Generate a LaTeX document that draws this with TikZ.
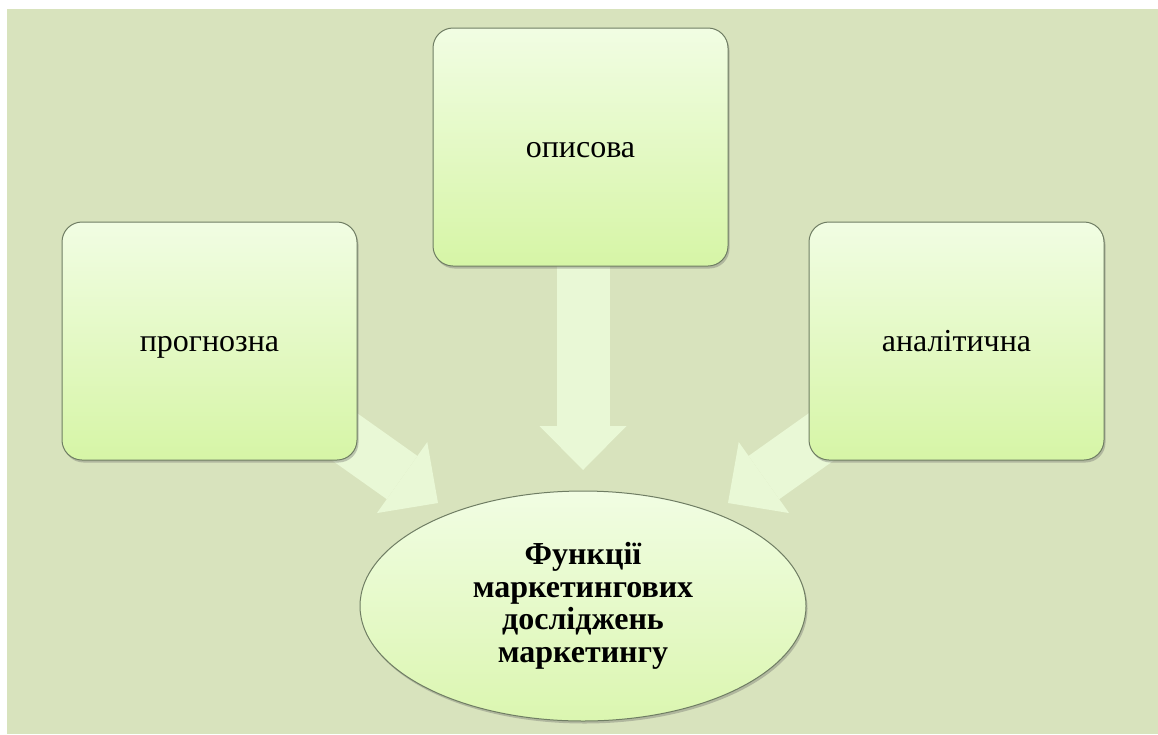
\documentclass[tikz,border=0pt]{standalone}
\usepackage{fontspec}
\setmainfont{Liberation Serif}
\newfontfamily\labelfont{Liberation Serif}
\usetikzlibrary{arrows.meta,shapes.geometric,shadows}
\definecolor{bg}{HTML}{D8E3BD}
\definecolor{boxtop}{HTML}{F1FDE3}
\definecolor{boxbot}{HTML}{D6F5A6}
\definecolor{ellbot}{HTML}{DBF6B0}
\definecolor{edge}{HTML}{6F7D63}
\definecolor{arrowfill}{HTML}{E9F8D6}
\tikzset{
  funcbox/.style={draw=edge, line width=1pt, rounded corners=20pt,
    top color=boxtop, bottom color=boxbot,
    minimum width=295pt, minimum height=238pt, inner sep=0pt,
    text height=28pt, text depth=7pt,
    font=\labelfont\fontsize{32}{34}\selectfont,
    drop shadow={shadow xshift=1.5pt, shadow yshift=-2.5pt, opacity=0.35, fill=black!60}},
  mainell/.style={ellipse, draw=edge, line width=1pt,
    top color=boxtop, bottom color=ellbot,
    minimum width=446pt, minimum height=230pt, inner sep=0pt,
    align=center, font=\labelfont\fontsize{32}{32.5}\selectfont\bfseries,
    drop shadow={shadow xshift=1.5pt, shadow yshift=-2.5pt, opacity=0.35, fill=black!60}},
  blockarrow/.style={draw=arrowfill, line width=53pt,
    -{Triangle[length=44pt,width=87pt,line width=0pt,fill=arrowfill]}}
}
\begin{document}
\begin{tikzpicture}[x=1pt,y=-1pt]
\useasboundingbox (0,0) rectangle (1158,734);
\fill[bg] (7,9) rectangle (1158,734);
% tips
\coordinate (tl) at (438,503);
\coordinate (tc) at (583,470);
\coordinate (tr) at (728,503);
\coordinate (sl) at (209.5,341);
\coordinate (sc) at (583,147);
\coordinate (sr) at (956.5,341);
% arrows
\draw[blockarrow] (sl) -- (tl);
\draw[blockarrow] (sc) -- (tc);
\draw[blockarrow] (sr) -- (tr);
% boxes
\node[funcbox] (left) at (209.5,341) {прогнозна};
\node[funcbox] (center) at (580.5,147) {описова};
\node[funcbox] (right) at (956.5,341) {аналітична};
\node[mainell] (main) at (583,606) {Функції\\маркетингових\\досліджень\\маркетингу};
\end{tikzpicture}
\end{document}
